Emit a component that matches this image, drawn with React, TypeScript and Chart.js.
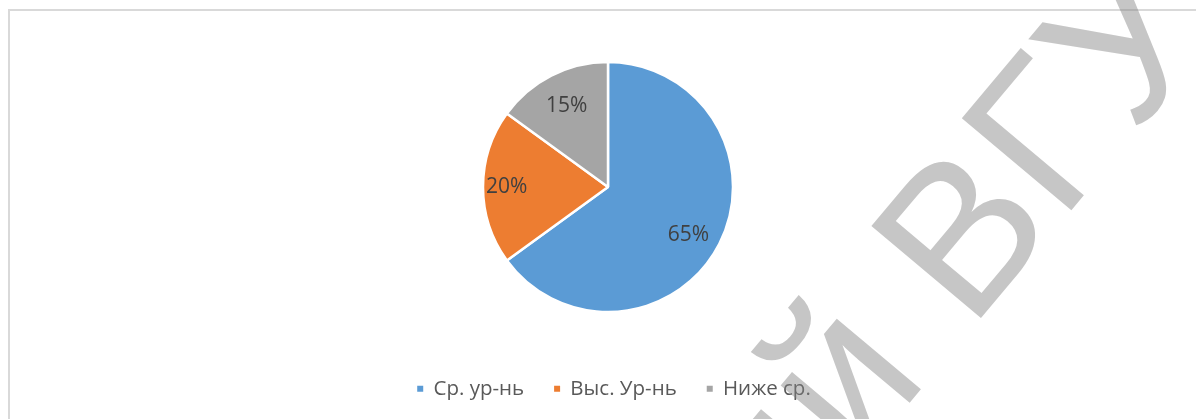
import React, { useEffect, useRef } from "react";
import { Chart, registerables } from "chart.js";

Chart.register(...registerables);

const categories: string[] = ["Ср. ур-нь", "Выс. Ур-нь", "Ниже ср."];
const values: number[] = [65, 20, 15];
const valueLabels: string[] = ["65%", "20%", "15%"];
const sliceColors: string[] = ["#5B9BD5", "#ED7D31", "#A5A5A5"];
const watermarkText = "Репозиторий ВГУ";
const watermarkPrefix = "Репозиторий ";

// label placement (fraction of radius, angle tweak in degrees)
const labelRadiusFactor = [0.75, 0.81, 0.73];
const labelAngleShift = [4, 0, 0];

const PIE_SHIFT_X = -6;

const pieLabelPlugin = {
  id: "pieShiftAndLabels",
  beforeDatasetsDraw(chart: any) {
    chart.ctx.save();
    chart.ctx.translate(PIE_SHIFT_X, 0);
  },
  afterDatasetsDraw(chart: any) {
    const ctx = chart.ctx as CanvasRenderingContext2D;
    const meta = chart.getDatasetMeta(0);
    ctx.save();
    ctx.font = '21px "Open Sans"';
    ctx.fillStyle = "#404040";
    ctx.textAlign = "center";
    ctx.textBaseline = "middle";
    meta.data.forEach((arc: any, i: number) => {
      const p = arc.getProps(["x", "y", "startAngle", "endAngle", "outerRadius"], true);
      const mid = (p.startAngle + p.endAngle) / 2 + (labelAngleShift[i] * Math.PI) / 180;
      const r = p.outerRadius * labelRadiusFactor[i];
      ctx.fillText(valueLabels[i], p.x + Math.cos(mid) * r, p.y + Math.sin(mid) * r);
    });
    ctx.restore();
    ctx.restore();
  },
};

const watermarkPlugin = {
  id: "watermark",
  afterDraw(chart: any) {
    const ctx = chart.ctx as CanvasRenderingContext2D;
    ctx.save();
    ctx.font = '208px "Liberation Sans"';
    (ctx as any).letterSpacing = "2px";
    ctx.fillStyle = "rgba(128,128,128,0.45)";
    ctx.textBaseline = "alphabetic";
    ctx.translate(970, 331);
    ctx.rotate((-50 * Math.PI) / 180);
    const w = ctx.measureText(watermarkPrefix).width;
    ctx.fillText(watermarkText, -w, 0);
    ctx.restore();
  },
};

export default function App() {
  const ref = useRef<HTMLCanvasElement | null>(null);
  useEffect(() => {
    document.body.style.overflow = "hidden";
    const defaultGen = (Chart as any).overrides.pie.plugins.legend.labels.generateLabels;
    const chart = new Chart(ref.current as HTMLCanvasElement, {
      type: "pie",
      data: {
        labels: categories,
        datasets: [
          {
            data: values,
            backgroundColor: sliceColors,
            borderColor: "#ffffff",
            borderWidth: 2.5,
          },
        ],
      },
      options: {
        responsive: false,
        animation: false,
        devicePixelRatio: 1,
        radius: 125,
        layout: { padding: { top: 25.5, bottom: 10, left: 32, right: 0 } },
        plugins: {
          legend: {
            position: "bottom",
            labels: {
              boxWidth: 6,
              boxHeight: 6,
              padding: 30,
              color: "#595959",
              font: { family: '"Open Sans"', size: 20.5 },
              generateLabels: (c: any) =>
                defaultGen(c).map((it: any) => ({ ...it, lineWidth: 0, strokeStyle: "rgba(0,0,0,0)" })),
            },
          },
          tooltip: { enabled: false },
        },
      } as any,
      plugins: [pieLabelPlugin, watermarkPlugin],
    });
    return () => chart.destroy();
  }, []);
  return (
    <div>
      <div
        style={{
          position: "fixed",
          left: 8,
          top: 9,
          width: 1300,
          height: 500,
          borderLeft: "2px solid #d9d9d9",
          borderTop: "2px solid #d9d9d9",
        }}
      />
      <canvas
        ref={ref}
        width={1196}
        height={419}
        style={{ position: "fixed", left: 0, top: 0, width: 1196, height: 419 }}
      />
    </div>
  );
}
